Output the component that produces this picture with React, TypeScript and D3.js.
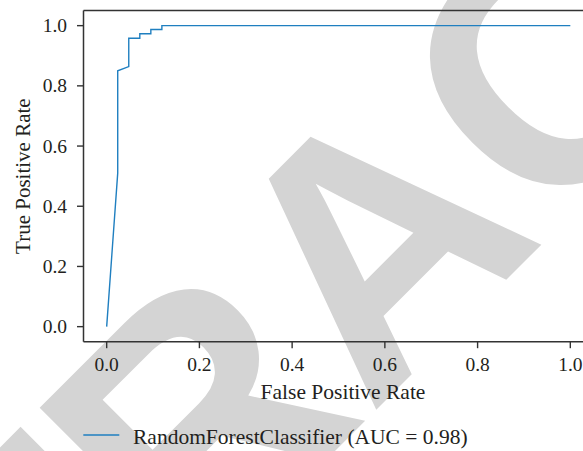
import React from "react";
import * as d3 from "d3";

const fpr = [0, 1 / 42, 1 / 42, 2 / 42, 2 / 42, 3 / 42, 3 / 42, 4 / 42, 4 / 42, 5 / 42, 5 / 42, 1.0];
const tpr = [0, 0.51, 0.85, 0.864, 0.958, 0.958, 0.973, 0.973, 0.987, 0.987, 1.0, 1.0];
const xTicks = [0, 0.2, 0.4, 0.6, 0.8, 1.0];
const yTicks = [0, 0.2, 0.4, 0.6, 0.8, 1.0];
const legendLabel = "RandomForestClassifier (AUC = 0.98)";
const xLabel = "False Positive Rate";
const yLabel = "True Positive Rate";
const watermarkLetters = ["R", "E", "T", "R", "A", "C", "T", "E", "D"];
const watermarkAdvances = [0.722, 0.667, 0.611, 0.722, 0.722, 0.722, 0.611, 0.667, 0.722];

const W = 583;
const H = 451;
const FONT = "'Liberation Serif', 'Times New Roman', serif";
const TEXT = "#231f20";
const LINE = "#1f7fc0";
const WM_SIZE = 348;

export default function App() {
  const x = d3.scaleLinear().domain([-0.05, 1.05]).range([83.5, 593.5]);
  const y = d3.scaleLinear().domain([-0.05, 1.05]).range([341.7, 10.6]);
  const pts: [number, number][] = fpr.map((f, i) => [f, tpr[i]]);
  const line = d3
    .line<[number, number]>()
    .x((d) => x(d[0]))
    .y((d) => y(d[1]));
  const fmt = d3.format(".1f");
  const cum: number[] = [];
  let acc = 0;
  watermarkAdvances.forEach((a) => {
    cum.push(acc + a / 2);
    acc += a;
  });
  const centerA = cum[4];
  return (
    <svg
      width={W}
      height={H}
      style={{ position: "absolute", left: 0, top: 0, background: "#fff" }}
    >
      <rect x={0} y={0} width={W} height={H} fill="#fff" />
      <g transform="translate(459,327) rotate(-45)">
        {watermarkLetters.map((ch, i) => (
          <text
            key={i}
            x={(cum[i] - centerA) * WM_SIZE}
            y={0}
            textAnchor="middle"
            fontFamily="'Liberation Sans', Arial, sans-serif"
            fontWeight="bold"
            fontSize={WM_SIZE}
            fill="#d4d4d4"
          >
            {ch}
          </text>
        ))}
      </g>
      <path d={line(pts) || ""} fill="none" stroke={LINE} strokeWidth={1.4} />
      <line x1={x(-0.05)} x2={x(1.05)} y1={y(1.05)} y2={y(1.05)} stroke="#333" strokeWidth={1.5} />
      <line x1={x(-0.05)} x2={x(1.05)} y1={y(-0.05)} y2={y(-0.05)} stroke="#333" strokeWidth={1.5} />
      <line x1={x(-0.05)} x2={x(-0.05)} y1={y(-0.05)} y2={y(1.05)} stroke="#333" strokeWidth={1.5} />
      {xTicks.map((t) => (
        <g key={"x" + t}>
          <line x1={x(t)} x2={x(t)} y1={y(-0.05)} y2={y(-0.05) + 6.5} stroke="#333" strokeWidth={1.4} />
          <text x={x(t)} y={371} textAnchor="middle" fontFamily={FONT} fontSize={19.5} fill={TEXT}>
            {fmt(t)}
          </text>
        </g>
      ))}
      {yTicks.map((t) => (
        <g key={"y" + t}>
          <line x1={x(-0.05) - 6.5} x2={x(-0.05)} y1={y(t)} y2={y(t)} stroke="#333" strokeWidth={1.4} />
          <text x={67} y={y(t) + 6.5} textAnchor="end" fontFamily={FONT} fontSize={19.5} fill={TEXT}>
            {fmt(t)}
          </text>
        </g>
      ))}
      <text x={343} y={399} textAnchor="middle" fontFamily={FONT} fontSize={21.5} fill={TEXT}>
        {xLabel}
      </text>
      <text
        transform={`translate(30,${(y(-0.05) + y(1.05)) / 2}) rotate(-90)`}
        textAnchor="middle"
        fontFamily={FONT}
        fontSize={21}
        fill={TEXT}
      >
        {yLabel}
      </text>
      <line x1={83.3} x2={119.3} y1={435} y2={435} stroke={LINE} strokeWidth={1.4} />
      <text x={133} y={444} fontFamily={FONT} fontSize={21.5} fill={TEXT}>
        {legendLabel}
      </text>
    </svg>
  );
}
